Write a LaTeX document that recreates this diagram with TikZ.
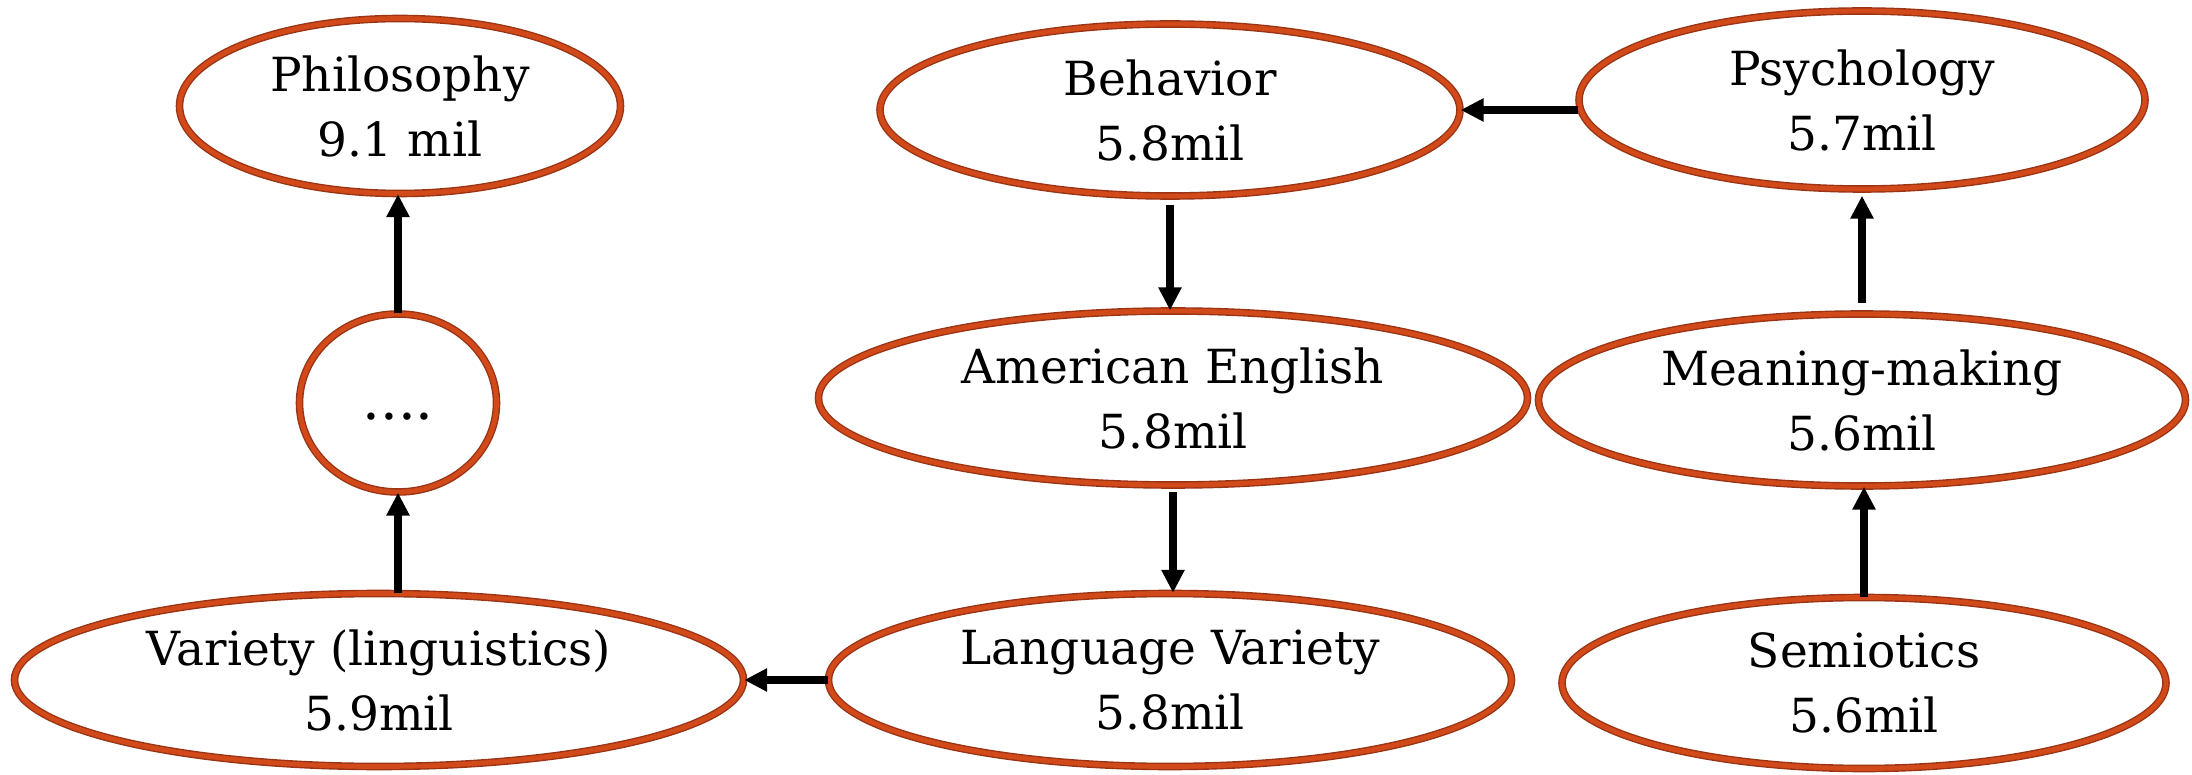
\documentclass[tikz,border=0pt]{standalone}
\usepackage{fontspec}
\setmainfont{DejaVu Serif}
\usetikzlibrary{arrows.meta,shapes.geometric}
\definecolor{ringin}{HTML}{D24A1A}
\definecolor{ringout}{HTML}{9A3414}
\begin{document}
\begin{tikzpicture}[x=0.5pt,y=-0.5pt,
  ell/.style={ellipse, draw=ringout, line width=0.7pt, double=ringin, double distance=2.4pt, fill=white, inner sep=0pt},
  lab/.style={font=\fontsize{23.5}{32.5}\selectfont, align=center},
  arr/.style={-{Triangle[length=11.5pt,width=11pt]}, line width=3.6pt, black}]
\useasboundingbox[fill=white] (0,0) rectangle (2192,775);

\node[ell, minimum width=220.5pt, minimum height=87.5pt, label={[lab]center:{Philosophy\\9.1 mil}}] (phil) at (400,106) {};
\node[ell, minimum width=98.5pt, minimum height=89pt] (dots) at (398,403) {};
\node[font=\fontsize{28}{32}\selectfont, yshift=-7pt] (dotst) at (dots.center) {....};
\node[ell, minimum width=364.5pt, minimum height=86.5pt, label={[lab]center:{Variety (linguistics)\\5.9mil}}] (var) at (379,680) {};
\node[ell, minimum width=341.5pt, minimum height=86.5pt, label={[lab]center:{Language Variety\\5.8mil}}] (lv) at (1170,680) {};
\node[ell, minimum width=354.5pt, minimum height=87pt, label={[lab]center:{American English\\5.8mil}}] (am) at (1173,398) {};
\node[ell, minimum width=290pt, minimum height=86pt, label={[lab]center:{Behavior\\5.8mil}}] (beh) at (1170,110) {};
\node[ell, minimum width=283pt, minimum height=89pt, label={[lab]center:{Psychology\\5.7mil}}] (psy) at (1862,100) {};
\node[ell, minimum width=323.5pt, minimum height=86pt, label={[lab]center:{Meaning-making\\5.6mil}}] (mm) at (1862,400) {};
\node[ell, minimum width=302pt, minimum height=85.5pt, label={[lab]center:{Semiotics\\5.6mil}}] (sem) at (1864,683) {};

\draw[arr] (var.north -| dots.south) -- (dots.south);
\draw[arr] (dots.north) -- (dots.north |- phil.south);
\draw[arr] (lv.west) -- (var.east);
\draw[arr, shorten <=4pt] (beh.south) -- (beh.south |- am.north);
\draw[arr, shorten <=3pt] (am.south) -- (am.south |- lv.north);
\draw[arr] (beh.east -| psy.west) -- (beh.east);
\draw[arr, shorten <=5pt, shorten >=3pt] (mm.north) -- (mm.north |- psy.south);
\draw[arr] (sem.north) -- (sem.north |- mm.south);
\end{tikzpicture}
\end{document}
